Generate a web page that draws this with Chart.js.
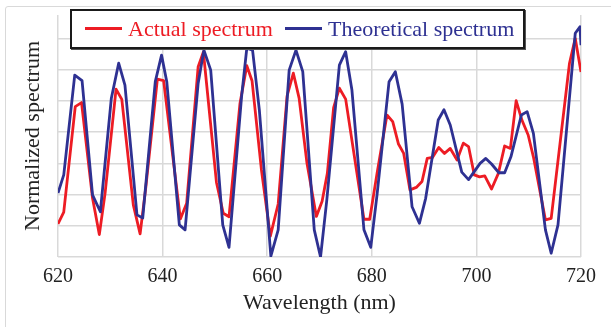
<!DOCTYPE html>
<html>
<head>
<meta charset="utf-8">
<script src="https://cdn.jsdelivr.net/npm/chart.js@4/dist/chart.umd.min.js"></script>
<style>
  html, body { margin: 0; padding: 0; background: #fff; overflow: hidden; }
  #wrap { position: relative; width: 611px; height: 327px; }
  #frame { position: absolute; left: 5px; top: 6px; width: 640px; height: 360px;
           border: 1.5px solid #d9d9d9; border-radius: 3px; pointer-events: none; }
  canvas { position: absolute; left: 0; top: 0; }
  #legend { position: absolute; left: 70px; top: 9px; width: 451px; height: 36px;
            border: 2px solid #1a1a1a; background: #fff; box-shadow: 1px 1px 0 #555;
            font-family: "Liberation Serif", "Times New Roman", serif; font-size: 22px; }
  .item { position: absolute; top: 0; height: 36px; line-height: 36px; white-space: nowrap; }
  .swatch { display: inline-block; width: 37px; height: 3px; vertical-align: middle; margin-right: 6px; position: relative; top: -2px; }
</style>
</head>
<body>
<div id="wrap">
  <canvas id="c" width="611" height="327"></canvas>
  <div id="frame"></div>
  <div id="legend">
    <div class="item" id="leg0" style="left:13px;"></div>
    <div class="item" id="leg1" style="left:213px;"></div>
  </div>
</div>
<script>
// ---- data ----
const seriesNames = ["Actual spectrum", "Theoretical spectrum"];
const seriesColors = ["#ed1c24", "#2e3192"];

const wavelengthActual = [620.0,621.1,623.3,624.5,626.6,627.9,629.0,631.1,632.2,634.4,635.7,636.8,639.0,640.2,643.4,644.6,646.8,647.8,650.3,651.6,652.7,654.8,656.1,657.1,658.9,660.6,662.1,663.8,665.0,666.1,667.6,669.4,670.5,671.5,672.7,673.8,675.0,678.5,679.6,681.0,682.9,684.0,685.1,686.1,687.3,688.5,689.6,690.6,691.6,692.8,693.9,695.0,696.3,697.5,698.5,699.6,700.6,701.6,702.9,704.2,705.4,706.5,707.6,708.7,709.9,710.9,713.2,714.3,717.8,718.9,720.0];
const actual = [1.06,1.44,4.82,4.95,1.89,0.72,2.04,5.38,5.05,1.67,0.74,2.25,5.70,5.65,1.22,1.72,6.10,6.57,2.39,1.40,1.29,4.93,6.13,5.65,2.79,0.67,1.70,5.16,5.89,5.09,3.01,1.30,1.79,2.68,4.79,5.41,5.06,1.21,1.21,2.68,4.55,4.34,3.62,3.32,2.15,2.23,2.42,3.16,3.19,3.51,3.32,3.48,3.11,3.65,3.54,2.63,2.57,2.60,2.18,2.68,3.56,3.48,5.01,4.39,3.91,3.21,1.19,1.24,6.21,7.01,5.93];

const wavelengthTheory = [620.0,621.1,623.2,624.6,626.6,628.1,630.2,631.6,632.8,635.1,636.2,638.6,639.8,640.8,643.2,644.3,646.8,647.9,649.2,651.5,652.7,655.1,656.1,657.2,658.5,660.7,662.1,664.2,665.5,666.8,669.0,670.2,671.4,673.8,675.0,676.2,678.5,679.8,681.0,683.3,684.5,685.8,687.7,689.1,690.3,692.7,693.8,695.0,697.2,698.5,700.7,701.8,702.9,704.3,705.4,706.6,708.6,709.7,710.9,713.2,714.3,715.6,718.9,719.8,720.0];
const theory = [2.05,2.63,5.83,5.65,1.99,1.45,5.09,6.21,5.51,1.35,1.25,5.62,6.47,5.62,1.03,0.87,5.57,6.63,5.99,1.03,0.31,5.14,6.69,6.63,4.71,0.03,0.87,5.99,6.63,5.94,0.87,0.00,1.83,6.15,6.58,5.35,0.87,0.31,1.99,5.62,5.94,4.90,1.61,1.08,1.88,4.39,4.72,4.23,2.72,2.48,3.00,3.16,2.98,2.70,2.70,3.21,4.55,4.66,3.96,0.87,0.12,1.03,7.17,7.38,6.79];

const xTickLabels = [620, 640, 660, 680, 700, 720];
const xTitle = "Wavelength (nm)";
const yTitle = "Normalized spectrum";

// ---- legend (HTML text) ----
seriesNames.forEach((n, i) => {
  const el = document.getElementById('leg' + i);
  el.innerHTML = '<span class="swatch" style="background:' + seriesColors[i] + '"></span><span style="color:' + seriesColors[i] + '">' + n + '</span>';
});

const toXY = (xs, ys) => xs.map((x, i) => ({x: x, y: ys[i]}));
const serif = "'Liberation Serif', 'Times New Roman', serif";
const gridColor = "#d9d9d9";

new Chart(document.getElementById('c'), {
  type: 'line',
  data: {
    datasets: [
      { label: seriesNames[0], data: toXY(wavelengthActual, actual), borderColor: seriesColors[0],
        borderWidth: 2.8, pointRadius: 0, tension: 0, borderJoinStyle: 'round', order: 1 },
      { label: seriesNames[1], data: toXY(wavelengthTheory, theory), borderColor: seriesColors[1],
        borderWidth: 2.8, pointRadius: 0, tension: 0, borderJoinStyle: 'round', order: 0 }
    ]
  },
  options: {
    responsive: false,
    animation: false,
    devicePixelRatio: 1,
    layout: { padding: { left: 0, right: 30, top: 15, bottom: 11 } },
    plugins: { legend: { display: false }, tooltip: { enabled: false } },
    scales: {
      x: {
        type: 'linear', min: 620, max: 720,
        afterBuildTicks: (s) => { s.ticks = xTickLabels.map(v => ({value: v})); },
        afterFit: (s) => { s.height = 59; },
        border: { display: false },
        grid: { color: gridColor, lineWidth: 1.5, drawTicks: false },
        ticks: { font: { family: serif, size: 20 }, color: '#222', padding: 8, maxRotation: 0 },
        title: { display: true, text: xTitle, font: { family: serif, size: 22 }, color: '#222', padding: { top: 0, bottom: 0 } }
      },
      y: {
        type: 'linear', min: 0, max: 7.756,
        afterFit: (s) => { s.width = 58; },
        border: { display: false },
        grid: { color: gridColor, lineWidth: 1.5, drawTicks: false },
        ticks: { display: false, stepSize: 1, includeBounds: false },
        title: { display: true, text: yTitle, font: { family: serif, size: 22 }, color: '#222', padding: { top: 20, bottom: 0 } }
      }
    }
  }
});
</script>
</body>
</html>
